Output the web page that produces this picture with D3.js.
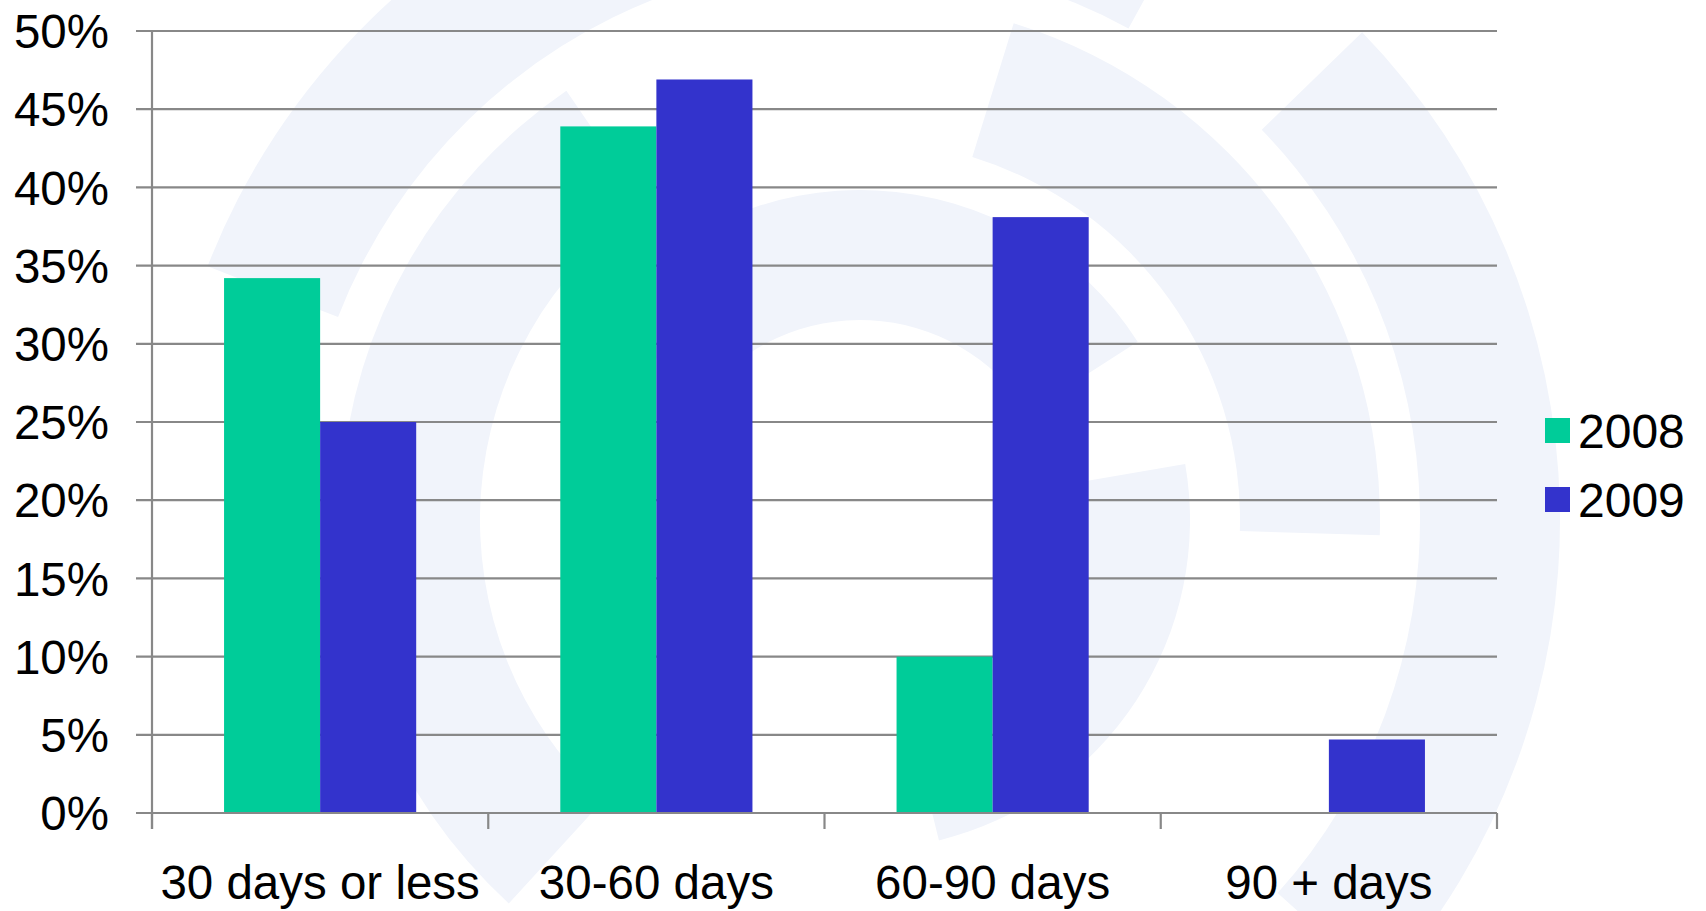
<!DOCTYPE html>
<html>
<head>
<meta charset="utf-8">
<script src="https://cdn.jsdelivr.net/npm/d3@7"></script>
<style>
  html, body { margin: 0; padding: 0; background: #fff; }
  svg { display: block; font-family: "Liberation Sans", Arial, sans-serif; }
</style>
</head>
<body>
<script>
var categories = ["30 days or less", "30-60 days", "60-90 days", "90 + days"];
var years = ["2008", "2009"];
var values2008 = [34.2, 43.9, 10.0, 0];
var values2009 = [25.0, 46.9, 38.1, 4.7];
var yTicks = [0, 5, 10, 15, 20, 25, 30, 35, 40, 45, 50];
var colors = ["#00cc99", "#3333cc"];

var width = 1706, height = 911;
var margin = {top: 31, right: 209, bottom: 98, left: 152};

var svg = d3.select("body").append("svg")
    .attr("width", width)
    .attr("height", height);

// faint watermark swirl in the background
var wm = svg.append("g")
    .attr("transform", "translate(860,520)")
    .attr("fill", "#f1f4fb");
var arc = d3.arc();
[[560, 700, -1.2, 0.5], [560, 700, 0.8, 2.3], [380, 520, -2.4, -0.6], [380, 520, 0.3, 1.6],
 [200, 330, -0.9, 1.0], [200, 330, 1.4, 2.9]].forEach(function (a) {
    wm.append("path").attr("d", arc({innerRadius: a[0], outerRadius: a[1], startAngle: a[2], endAngle: a[3]}));
});

var g = svg.append("g")
    .attr("transform", "translate(" + margin.left + "," + margin.top + ")");

var w = width - margin.left - margin.right,
    h = height - margin.top - margin.bottom;

var x0 = d3.scaleBand()
    .domain(categories)
    .range([0, w])
    .paddingInner(0)
    .paddingOuter(0);

var x1 = d3.scaleBand()
    .domain(years)
    .range([0, x0.bandwidth()])
    .paddingOuter(0.75)
    .paddingInner(0);

var y = d3.scaleLinear()
    .domain([0, 50])
    .range([h, 0]);

// gridlines
g.append("g")
    .selectAll("line")
    .data(yTicks)
    .enter().append("line")
    .attr("x1", -16)
    .attr("x2", w)
    .attr("y1", function (d) { return y(d); })
    .attr("y2", function (d) { return y(d); })
    .attr("stroke", "#888")
    .attr("stroke-width", 2.2);

// y labels
g.append("g")
    .selectAll("text")
    .data(yTicks)
    .enter().append("text")
    .attr("x", -43)
    .attr("y", function (d) { return y(d); })
    .attr("dy", "0.36em")
    .attr("text-anchor", "end")
    .attr("font-size", 47.5)
    .attr("fill", "#000")
    .text(function (d) { return d + "%"; });

// bars
var groups = g.append("g")
    .selectAll("g")
    .data(categories)
    .enter().append("g")
    .attr("transform", function (d) { return "translate(" + x0(d) + ",0)"; });

groups.selectAll("rect")
    .data(function (d, i) {
        return [{year: years[0], v: values2008[i]}, {year: years[1], v: values2009[i]}];
    })
    .enter().append("rect")
    .filter(function (d) { return d.v > 0; })
    .attr("x", function (d) { return x1(d.year); })
    .attr("width", x1.bandwidth())
    .attr("y", function (d) { return y(d.v); })
    .attr("height", function (d) { return h - y(d.v); })
    .attr("fill", function (d) { return colors[years.indexOf(d.year)]; });

// axes lines
g.append("line")
    .attr("x1", 0).attr("x2", 0)
    .attr("y1", 0).attr("y2", h + 16)
    .attr("stroke", "#888").attr("stroke-width", 2.2);

g.append("line")
    .attr("x1", 0).attr("x2", w)
    .attr("y1", h).attr("y2", h)
    .attr("stroke", "#888").attr("stroke-width", 2.2);

// category tick marks
g.append("g")
    .selectAll("line")
    .data(d3.range(categories.length + 1))
    .enter().append("line")
    .attr("x1", function (i) { return i * x0.step(); })
    .attr("x2", function (i) { return i * x0.step(); })
    .attr("y1", h)
    .attr("y2", h + 16)
    .attr("stroke", "#888")
    .attr("stroke-width", 2.2);

// category labels
g.append("g")
    .selectAll("text")
    .data(categories)
    .enter().append("text")
    .attr("x", function (d) { return x0(d) + x0.bandwidth() / 2; })
    .attr("y", h + 86)
    .attr("text-anchor", "middle")
    .attr("font-size", 47.5)
    .attr("fill", "#000")
    .text(function (d) { return d; });

// legend
var legend = svg.append("g")
    .attr("transform", "translate(1545,418)");

years.forEach(function (yr, i) {
    var row = legend.append("g")
        .attr("transform", "translate(0," + (i * 69) + ")");
    row.append("rect")
        .attr("width", 25)
        .attr("height", 25)
        .attr("fill", colors[i]);
    row.append("text")
        .attr("x", 33)
        .attr("y", 30)
        .attr("font-size", 48)
        .attr("fill", "#000")
        .text(yr);
});
</script>
</body>
</html>
